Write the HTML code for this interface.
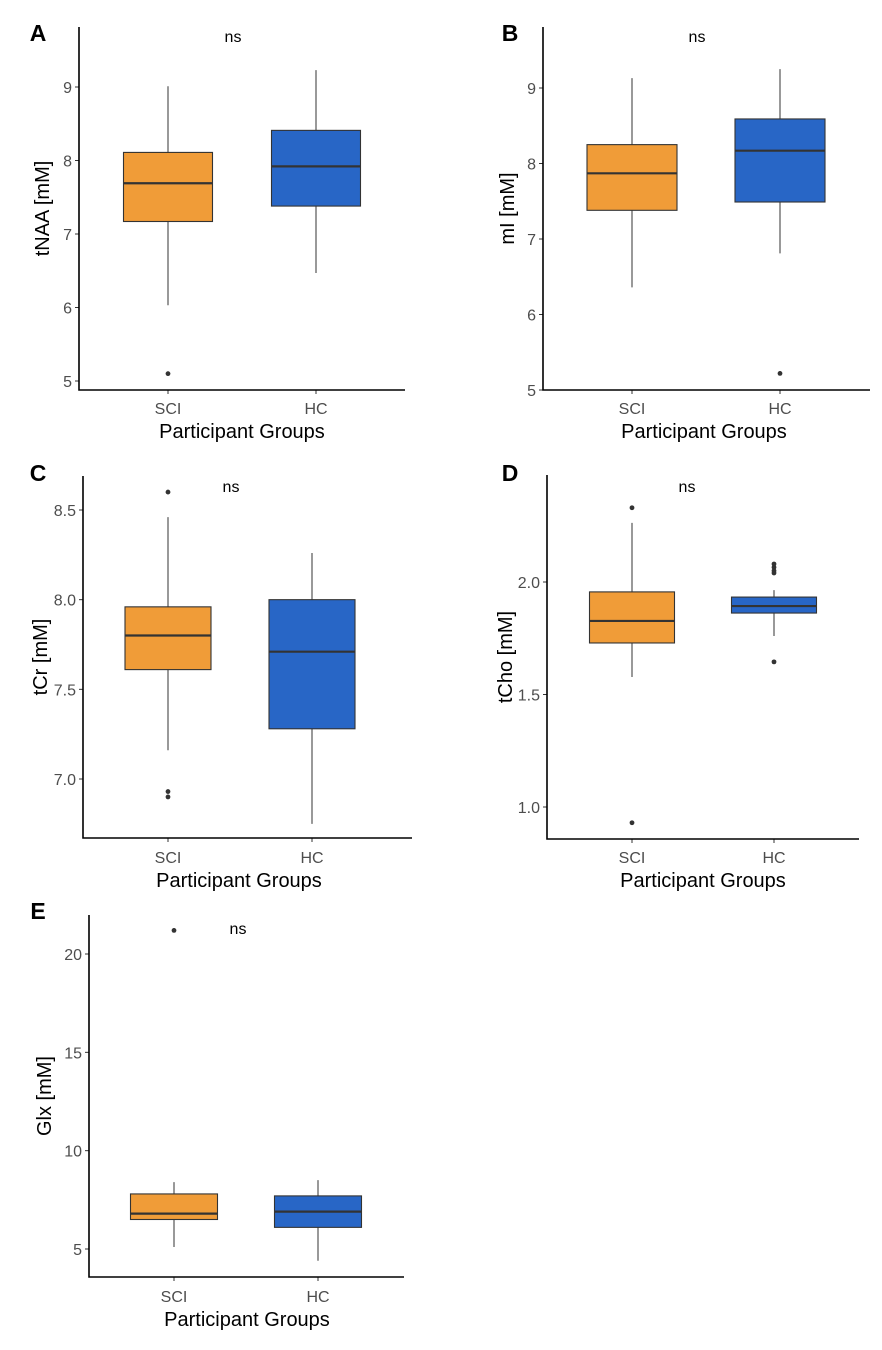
<!DOCTYPE html>
<html><head><meta charset="utf-8"><style>
html,body{margin:0;padding:0;background:#fff}
svg{display:block;font-family:"Liberation Sans",Arial,sans-serif}
</style></head><body>
<svg id="fig" width="882" height="1350" viewBox="0 0 882 1350"></svg>
<script>
const categories = ["SCI","HC"];
const panelLetters = ["A","B","C","D","E"];
const yTitles = ["tNAA [mM]","mI [mM]","tCr [mM]","tCho [mM]","Glx [mM]"];
const tickLabelsA = ["5","6","7","8","9"];
const tickLabelsB = ["5","6","7","8","9"];
const tickLabelsC = ["7.0","7.5","8.0","8.5"];
const tickLabelsD = ["1.0","1.5","2.0"];
const tickLabelsE = ["5","10","15","20"];
// [lowWhisker, Q1, median, Q3, highWhisker]
const statsA_SCI = [6.03,7.17,7.69,8.11,9.01];
const statsA_HC  = [6.47,7.38,7.92,8.41,9.23];
const statsB_SCI = [6.36,7.38,7.87,8.25,9.13];
const statsB_HC  = [6.81,7.49,8.17,8.59,9.25];
const statsC_SCI = [7.16,7.61,7.80,7.96,8.46];
const statsC_HC  = [6.75,7.28,7.71,8.00,8.26];
const statsD_SCI = [1.578,1.729,1.827,1.956,2.263];
const statsD_HC  = [1.76,1.862,1.893,1.933,1.964];
const statsE_SCI = [5.1,6.5,6.8,7.8,8.4];
const statsE_HC  = [4.4,6.1,6.9,7.7,8.5];
const outliersA_SCI = [5.1];
const outliersA_HC = [];
const outliersB_SCI = [];
const outliersB_HC = [5.22];
const outliersC_SCI = [8.60,6.93,6.90];
const outliersC_HC = [];
const outliersD_SCI = [2.33,0.93];
const outliersD_HC = [2.08,2.065,2.05,2.04,1.645];
const outliersE_SCI = [21.2];
const outliersE_HC = [];

const NS='http://www.w3.org/2000/svg';
const svg=document.getElementById('fig');
function mk(tag,attrs,parent){const e=document.createElementNS(NS,tag);for(const k in attrs)e.setAttribute(k,attrs[k]);(parent||svg).appendChild(e);return e;}

const layouts=[
 {ax:79,top:27,bot:390,right:405,v0:5,p0:381,v1:9,p1:87,cx:[168,316],bw:89,ns:[233,37],let:[30,40],yt:42,xt:242,xty:431,tly:408},
 {ax:543,top:27,bot:390,right:870,v0:5,p0:390,v1:9,p1:88,cx:[632,780],bw:90,ns:[697,37],let:[502,40],yt:507,xt:704,xty:431,tly:408},
 {ax:83,top:476,bot:838,right:412,v0:7,p0:779,v1:8.5,p1:510,cx:[168,312],bw:86,ns:[231,487],let:[30,480],yt:40,xt:239,xty:880,tly:857},
 {ax:547,top:475,bot:839,right:859,v0:1,p0:807,v1:2,p1:582,cx:[632,774],bw:85,ns:[687,487],let:[502,480],yt:505,xt:703,xty:880,tly:857},
 {ax:89,top:915,bot:1277,right:404,v0:5,p0:1249,v1:20,p1:954,cx:[174,318],bw:87,ns:[238,929],let:[30,918],yt:44,xt:247,xty:1319,tly:1296}
];
const ticks=[tickLabelsA,tickLabelsB,tickLabelsC,tickLabelsD,tickLabelsE];
const stats=[[statsA_SCI,statsA_HC],[statsB_SCI,statsB_HC],[statsC_SCI,statsC_HC],[statsD_SCI,statsD_HC],[statsE_SCI,statsE_HC]];
const outs=[[outliersA_SCI,outliersA_HC],[outliersB_SCI,outliersB_HC],[outliersC_SCI,outliersC_HC],[outliersD_SCI,outliersD_HC],[outliersE_SCI,outliersE_HC]];
const fills=["#F09C38","#2866C6"];

layouts.forEach((L,i)=>{
  const g=mk('g',{});
  
  
  const y=v=>L.p0+(v-L.v0)*(L.p1-L.p0)/(L.v1-L.v0);
  const lt=mk('text',{x:L.let[0]+8,y:L.let[1]+1,'font-size':23,'font-weight':'bold','text-anchor':'middle'},g);lt.textContent=panelLetters[i];
  
  
  const ns=mk('text',{x:L.ns[0],y:L.ns[1]+5,'font-size':16,'text-anchor':'middle',fill:'#000'},g);ns.textContent='ns';
  
  
  categories.forEach((c,j)=>{
    const s=stats[i][j],cx=L.cx[j],bw=L.bw;
    const bg=mk('g',{},g);
    
    
    mk('line',{x1:cx,x2:cx,y1:y(s[4]),y2:y(s[3]),stroke:'#333','stroke-width':1},bg);
    mk('line',{x1:cx,x2:cx,y1:y(s[1]),y2:y(s[0]),stroke:'#333','stroke-width':1},bg);
    mk('rect',{x:cx-bw/2,y:y(s[3]),width:bw,height:y(s[1])-y(s[3]),fill:fills[j],stroke:'#333','stroke-width':1.1},bg);
    mk('line',{x1:cx-bw/2,x2:cx+bw/2,y1:y(s[2]),y2:y(s[2]),stroke:'#333','stroke-width':2.2},bg);
    outs[i][j].forEach(v=>{
      const p=mk('circle',{cx:cx,cy:y(v),r:2.4,fill:'#333'},bg);
      
      
    });
    mk('line',{x1:cx,x2:cx,y1:L.bot,y2:L.bot+4,stroke:'#333'},g);
    const tl=mk('text',{x:cx,y:L.tly+6,'font-size':16,'text-anchor':'middle',fill:'#4d4d4d'},g);tl.textContent=c;
    
    
  });
  ticks[i].forEach(t=>{
    const v=parseFloat(t),py=y(v);
    mk('line',{x1:L.ax-4,x2:L.ax,y1:py,y2:py,stroke:'#333'},g);
    const tx=mk('text',{x:L.ax-7,y:py+6,'font-size':16,'text-anchor':'end',fill:'#4d4d4d'},g);tx.textContent=t;
    
    
  });
  const axes=mk('path',{d:`M${L.ax},${L.top}V${L.bot}H${L.right}`,fill:'none',stroke:'#000','stroke-width':1.6},g);
  
  
  const ym=(L.top+L.bot)/2;
  const yt=mk('text',{x:L.yt,y:ym,'font-size':20,'text-anchor':'middle',transform:`rotate(-90 ${L.yt} ${ym})`,dy:7},g);yt.textContent=yTitles[i];
  
  
  const xt=mk('text',{x:L.xt,y:L.xty+7,'font-size':20,'text-anchor':'middle'},g);xt.textContent='Participant Groups';
  
  
});
</script>
</body></html>
